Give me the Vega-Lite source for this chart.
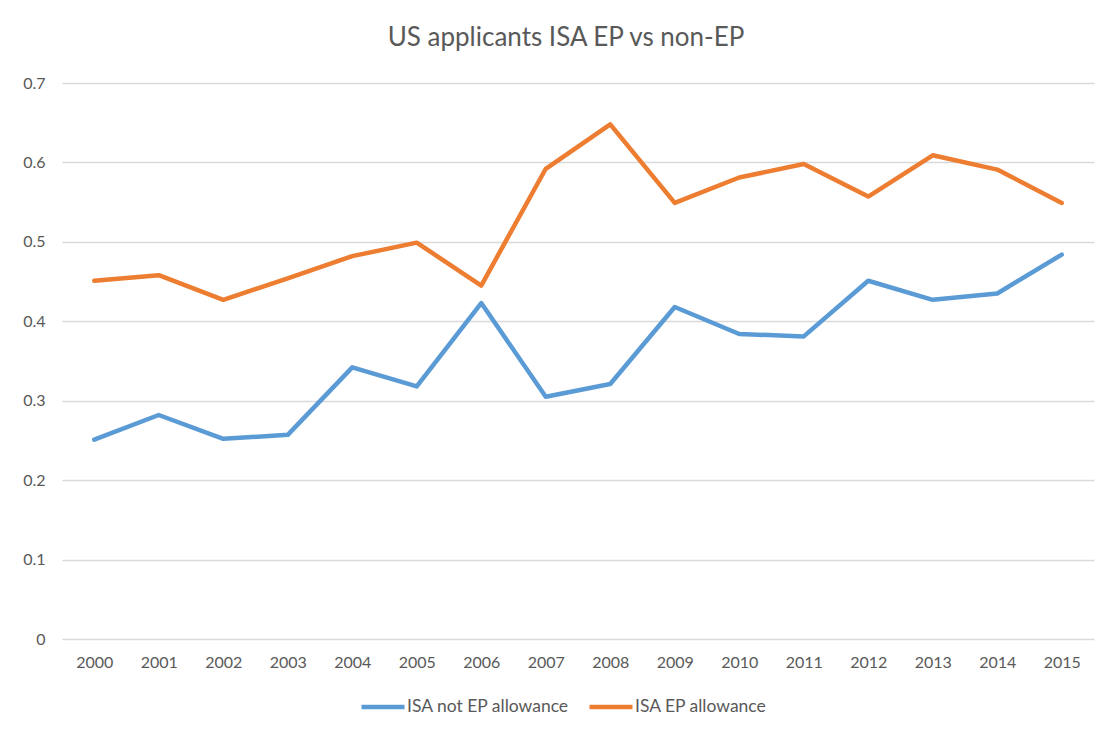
{
  "$schema": "https://vega.github.io/schema/vega-lite/v6.json",
  "autosize": {"type": "none"},
  "width": 1032,
  "height": 556,
  "padding": {"left": 62, "top": 83, "right": 10, "bottom": 90},
  "background": "white",
  "title": {
    "text": "US applicants ISA EP vs non-EP",
    "font": "Lato",
    "fontSize": 26,
    "fontWeight": "normal",
    "color": "#595959",
    "anchor": "middle",
    "dx": -12,
    "offset": 24
  },
  "data": {
    "values": [
      {"year": "2000", "series": "ISA not EP allowance", "value": 0.251},
      {"year": "2001", "series": "ISA not EP allowance", "value": 0.282},
      {"year": "2002", "series": "ISA not EP allowance", "value": 0.252},
      {"year": "2003", "series": "ISA not EP allowance", "value": 0.257},
      {"year": "2004", "series": "ISA not EP allowance", "value": 0.342},
      {"year": "2005", "series": "ISA not EP allowance", "value": 0.318},
      {"year": "2006", "series": "ISA not EP allowance", "value": 0.423},
      {"year": "2007", "series": "ISA not EP allowance", "value": 0.305},
      {"year": "2008", "series": "ISA not EP allowance", "value": 0.321},
      {"year": "2009", "series": "ISA not EP allowance", "value": 0.418},
      {"year": "2010", "series": "ISA not EP allowance", "value": 0.384},
      {"year": "2011", "series": "ISA not EP allowance", "value": 0.381},
      {"year": "2012", "series": "ISA not EP allowance", "value": 0.451},
      {"year": "2013", "series": "ISA not EP allowance", "value": 0.427},
      {"year": "2014", "series": "ISA not EP allowance", "value": 0.435},
      {"year": "2015", "series": "ISA not EP allowance", "value": 0.484},
      {"year": "2000", "series": "ISA EP allowance", "value": 0.451},
      {"year": "2001", "series": "ISA EP allowance", "value": 0.458},
      {"year": "2002", "series": "ISA EP allowance", "value": 0.427},
      {"year": "2003", "series": "ISA EP allowance", "value": 0.454},
      {"year": "2004", "series": "ISA EP allowance", "value": 0.482},
      {"year": "2005", "series": "ISA EP allowance", "value": 0.499},
      {"year": "2006", "series": "ISA EP allowance", "value": 0.445},
      {"year": "2007", "series": "ISA EP allowance", "value": 0.592},
      {"year": "2008", "series": "ISA EP allowance", "value": 0.648},
      {"year": "2009", "series": "ISA EP allowance", "value": 0.549},
      {"year": "2010", "series": "ISA EP allowance", "value": 0.581},
      {"year": "2011", "series": "ISA EP allowance", "value": 0.598},
      {"year": "2012", "series": "ISA EP allowance", "value": 0.557},
      {"year": "2013", "series": "ISA EP allowance", "value": 0.609},
      {"year": "2014", "series": "ISA EP allowance", "value": 0.591},
      {"year": "2015", "series": "ISA EP allowance", "value": 0.549}
    ]
  },
  "mark": {"type": "line", "strokeWidth": 4.5, "strokeCap": "round", "strokeJoin": "round"},
  "encoding": {
    "x": {
      "field": "year",
      "type": "ordinal",
      "scale": {"type": "point", "padding": 0.5},
      "axis": {
        "title": null,
        "labelAngle": 0,
        "domain": false,
        "ticks": false,
        "grid": false,
        "labelFont": "Lato",
        "labelFontSize": 16,
        "labelColor": "#595959",
        "labelPadding": 15
      }
    },
    "y": {
      "field": "value",
      "type": "quantitative",
      "scale": {"domain": [0, 0.7], "nice": false},
      "axis": {
        "title": null,
        "values": [0, 0.1, 0.2, 0.3, 0.4, 0.5, 0.6, 0.7],
        "format": "~g",
        "domain": false,
        "ticks": false,
        "grid": true,
        "gridColor": "#d9d9d9",
        "gridWidth": 1.3,
        "labelFont": "Lato",
        "labelFontSize": 16,
        "labelColor": "#595959",
        "labelPadding": 17
      }
    },
    "color": {
      "field": "series",
      "type": "nominal",
      "sort": ["ISA not EP allowance", "ISA EP allowance"],
      "scale": {"domain": ["ISA not EP allowance", "ISA EP allowance"], "range": ["#5b9bd5", "#ed7d31"]},
      "legend": {
        "title": null,
        "orient": "none",
        "legendX": 297,
        "legendY": 600,
        "direction": "horizontal",
        "symbolType": "stroke",
        "symbolSize": 1849,
        "symbolStrokeWidth": 4.5,
        "labelFont": "Lato",
        "labelFontSize": 17.5,
        "labelColor": "#595959",
        "labelOffset": 0,
        "labelLimit": 400,
        "columnPadding": 10
      }
    }
  },
  "config": {
    "view": {"stroke": null}
  }
}
